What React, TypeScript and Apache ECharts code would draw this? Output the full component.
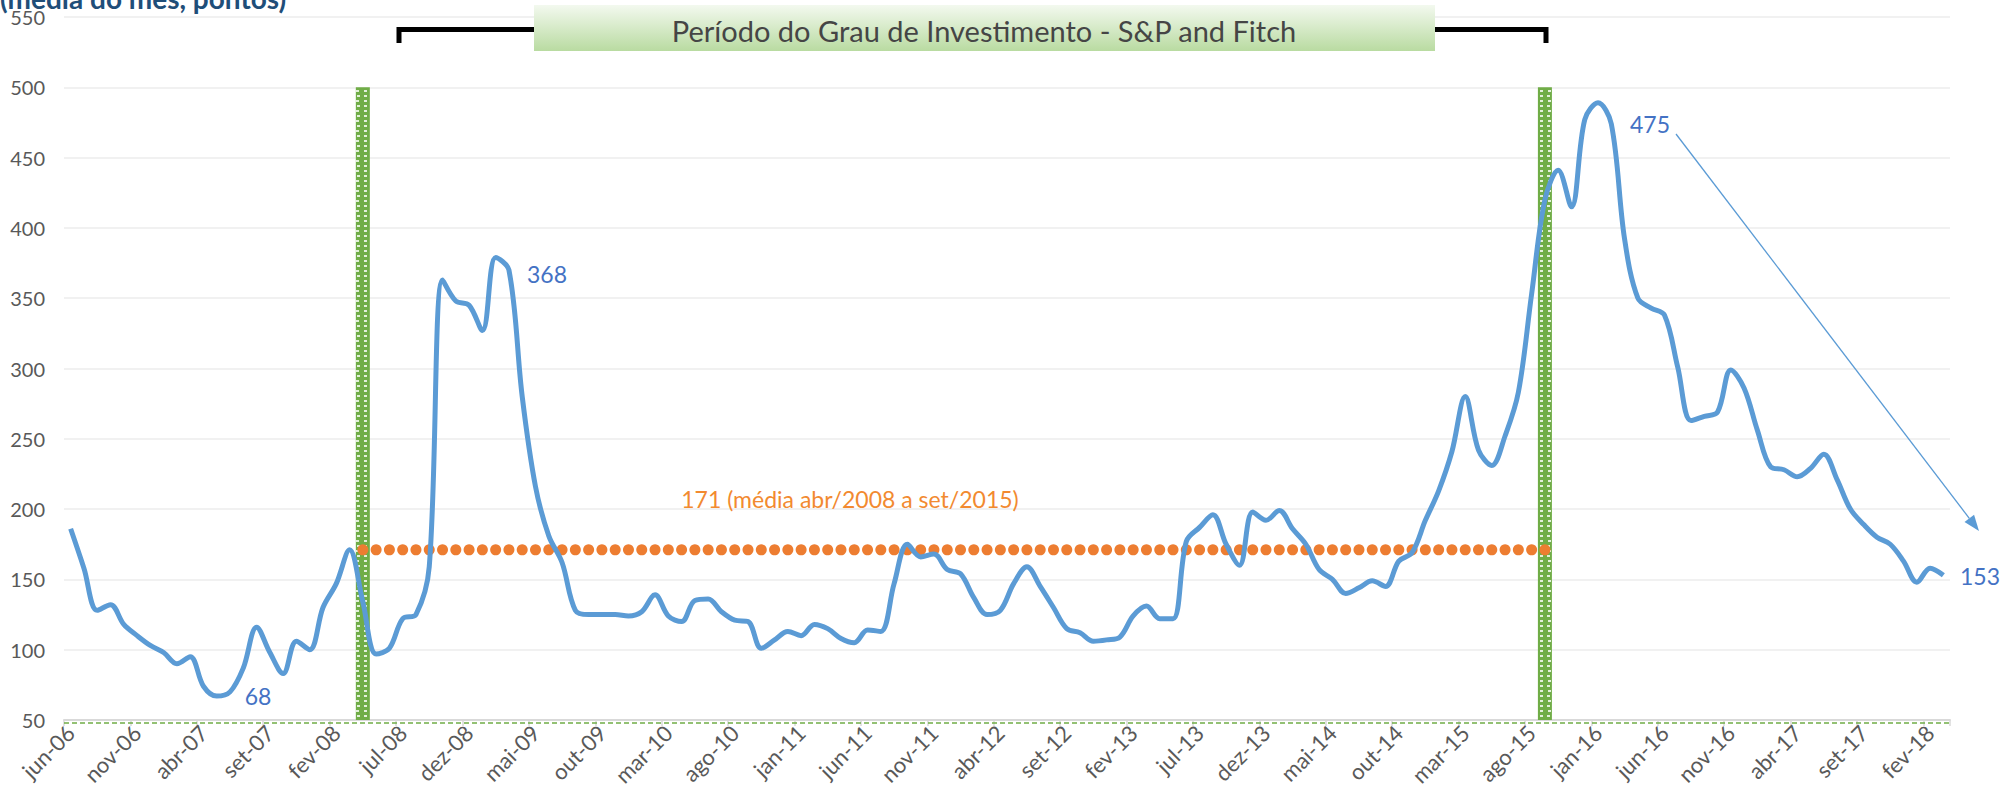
import React, { useEffect, useRef } from "react";
import * as echarts from "echarts";

// ---------- data ----------
const MONTHS_PT = ["jan", "fev", "mar", "abr", "mai", "jun", "jul", "ago", "set", "out", "nov", "dez"];
const START_YEAR = 2006;
const START_MONTH = 5; // jun

// Risco-país, média do mês (pontos), jun-06 .. mar-18
const SPREAD = [
  186, 158, 128, 132, 118, 110, 103, 98, 90, 95,
  74, 67, 70, 87, 116, 98, 83, 106, 100, 130,
  147, 171, 134, 97, 101, 122, 125, 159, 363, 348,
  345, 327, 379, 370, 280, 216, 181, 162, 128, 125,
  125, 125, 124, 127, 139, 124, 120, 135, 136, 127,
  121, 120, 101, 107, 113, 110, 118, 115, 108, 105,
  114, 113, 147, 175, 166, 168, 157, 154, 137, 125,
  128, 147, 159, 145, 130, 115, 112, 106, 107, 109,
  124, 131, 122, 122, 177, 187, 196, 175, 160, 198,
  192, 199, 186, 175, 157, 150, 140, 144, 149, 145,
  163, 169, 192, 213, 241, 280, 242, 231, 252, 283,
  353, 420, 441, 415, 477, 489, 474, 392, 350, 343,
  338, 301, 263, 266, 269, 299, 286, 256, 230, 228,
  223, 229, 239, 221, 200, 189, 180, 175, 163, 148,
  158, 153,
];

const AVG_VALUE = 171;
const AVG_START = "abr-08";
const AVG_END = "set-15";
const GRADE_BAR_TOP = 500;

const Y_MIN = 50;
const Y_MAX = 550;
const Y_STEP = 50;

const TITLE_TEXT = "(média do mês, pontos)";
const BANNER_TEXT = "Período do Grau de Investimento - S&P and Fitch";
const AVG_LABEL = "171 (média abr/2008 a set/2015)";
const NOTE_MIN = "68";
const NOTE_PEAK_2008 = "368";
const NOTE_PEAK_2015 = "475";
const NOTE_LAST = "153";

const CATEGORIES = SPREAD.map((_, i) => {
  const t = START_MONTH + i;
  const m = t % 12;
  const y = START_YEAR + Math.floor(t / 12);
  return `${MONTHS_PT[m]}-${String(y % 100).padStart(2, "0")}`;
});

const iStart = CATEGORIES.indexOf(AVG_START);
const iEnd = CATEGORIES.indexOf(AVG_END);
const AVG_DATA = CATEGORIES.map((_, i) => (i >= iStart && i <= iEnd ? AVG_VALUE : null));
const BAR_DATA = CATEGORIES.map((_, i) => (i === iStart || i === iEnd ? GRADE_BAR_TOP : null));

// ---------- layout ----------
const W = 2004;
const H = 807;
const GRID = { left: 64, right: 54, top: 17, bottom: 87 };
const FONT = "Lato";

function arrowHead(x1: number, y1: number, x2: number, y2: number, len: number, half: number) {
  const dx = x2 - x1;
  const dy = y2 - y1;
  const L = Math.sqrt(dx * dx + dy * dy);
  const ux = dx / L;
  const uy = dy / L;
  const bx = x2 - ux * len;
  const by = y2 - uy * len;
  return {
    base: [bx, by],
    pts: [
      [x2, y2],
      [bx - uy * half, by + ux * half],
      [bx + uy * half, by - ux * half],
    ],
  };
}

export default function App() {
  const ref = useRef<HTMLDivElement>(null);

  useEffect(() => {
    if (!ref.current) return;
    const chart = echarts.init(ref.current, undefined, { renderer: "svg" });

    const axisBottom = H - GRID.bottom;
    const arrowStart = [1676, 134];
    const arrowEnd = [1979, 531];
    const head = arrowHead(arrowStart[0], arrowStart[1], arrowEnd[0], arrowEnd[1], 16, 6);

    const option: any = {
      animation: false,
      backgroundColor: "#ffffff",
      textStyle: { fontFamily: FONT },
      grid: { ...GRID, containLabel: false },
      xAxis: {
        type: "category",
        data: CATEGORIES,
        boundaryGap: true,
        axisLine: { lineStyle: { color: "#d9d9d9", width: 2 } },
        axisTick: { show: true, interval: 4, length: 6, lineStyle: { color: "#d9d9d9", width: 1.5 } },
        axisLabel: { interval: 4, rotate: 45, fontSize: 22, color: "#595959", margin: 9, fontFamily: FONT },
        splitLine: { show: false },
      },
      yAxis: {
        type: "value",
        min: Y_MIN,
        max: Y_MAX,
        interval: Y_STEP,
        startValue: Y_MIN,
        axisLine: { show: false },
        axisTick: { show: false },
        axisLabel: { fontSize: 20, color: "#595959", margin: 19, fontFamily: FONT },
        splitLine: { lineStyle: { color: "#ececec", width: 1.5 } },
      },
      series: [
        {
          type: "bar",
          data: BAR_DATA,
          barWidth: 14,
          clip: true,
          z: 1,
          itemStyle: {
            color: "#70ad47",
            decal: {
              symbol: "rect",
              symbolSize: 1,
              color: "rgba(255,255,255,0.8)",
              dashArrayX: [[3, 4], [0, 3.5, 3, 0.5]],
              dashArrayY: [1.3, 2.4],
              rotation: 0,
            },
          },
        },
        {
          type: "line",
          data: AVG_DATA,
          symbol: "circle",
          symbolSize: 11,
          showAllSymbol: true,
          lineStyle: { width: 0, opacity: 0 },
          itemStyle: { color: "#ed7d31" },
          z: 2,
        },
        {
          type: "line",
          data: SPREAD,
          symbol: "none",
          smooth: 0.35,
          lineStyle: { width: 5, color: "#5b9bd5" },
          z: 3,
        },
      ],
      graphic: [
        {
          type: "line",
          shape: { x1: GRID.left, y1: axisBottom + 3, x2: W - GRID.right, y2: axisBottom + 3 },
          style: { stroke: "#70ad47", lineWidth: 1.5, lineDash: [5, 3] },
          z: 5,
        },
        {
          type: "text",
          x: 0,
          y: -2.5,
          style: {
            text: TITLE_TEXT,
            fill: "#1f4e79",
            font: `bold 28px ${FONT}`,
            align: "left",
            verticalAlign: "middle",
          },
        },
        {
          type: "polyline",
          shape: { points: [[399, 43], [399, 29.5], [1546, 29.5], [1546, 43]] },
          style: { stroke: "#000000", lineWidth: 5, fill: null },
          z: 10,
        },
        {
          type: "rect",
          shape: { x: 534, y: 5, width: 901, height: 46 },
          style: {
            fill: {
              type: "linear",
              x: 0,
              y: 0,
              x2: 0,
              y2: 1,
              colorStops: [
                { offset: 0, color: "#f3f9ef" },
                { offset: 1, color: "#b9dba1" },
              ],
            },
          },
          z: 11,
        },
        {
          type: "text",
          x: 984,
          y: 30,
          style: {
            text: BANNER_TEXT,
            fill: "#454545",
            font: `29px ${FONT}`,
            align: "center",
            verticalAlign: "middle",
          },
          z: 12,
        },
        {
          type: "text",
          x: 850,
          y: 499,
          style: { text: AVG_LABEL, fill: "#f28a30", font: `23px ${FONT}`, align: "center", verticalAlign: "middle" },
          z: 12,
        },
        {
          type: "text",
          x: 258,
          y: 696,
          style: { text: NOTE_MIN, fill: "#4472c4", font: `23px ${FONT}`, align: "center", verticalAlign: "middle" },
          z: 12,
        },
        {
          type: "text",
          x: 547,
          y: 274,
          style: { text: NOTE_PEAK_2008, fill: "#4472c4", font: `23px ${FONT}`, align: "center", verticalAlign: "middle" },
          z: 12,
        },
        {
          type: "text",
          x: 1650,
          y: 124,
          style: { text: NOTE_PEAK_2015, fill: "#4472c4", font: `23px ${FONT}`, align: "center", verticalAlign: "middle" },
          z: 12,
        },
        {
          type: "text",
          x: 1980,
          y: 576,
          style: { text: NOTE_LAST, fill: "#4472c4", font: `23px ${FONT}`, align: "center", verticalAlign: "middle" },
          z: 12,
        },
        {
          type: "line",
          shape: { x1: arrowStart[0], y1: arrowStart[1], x2: head.base[0], y2: head.base[1] },
          style: { stroke: "#5b9bd5", lineWidth: 1.3 },
          z: 12,
        },
        {
          type: "polygon",
          shape: { points: head.pts },
          style: { fill: "#5b9bd5" },
          z: 12,
        },
      ],
    };

    chart.setOption(option);
    return () => chart.dispose();
  }, []);

  return (
    <div
      ref={ref}
      style={{ position: "fixed", left: 0, top: 0, width: W, height: H, background: "#fff" }}
    />
  );
}
